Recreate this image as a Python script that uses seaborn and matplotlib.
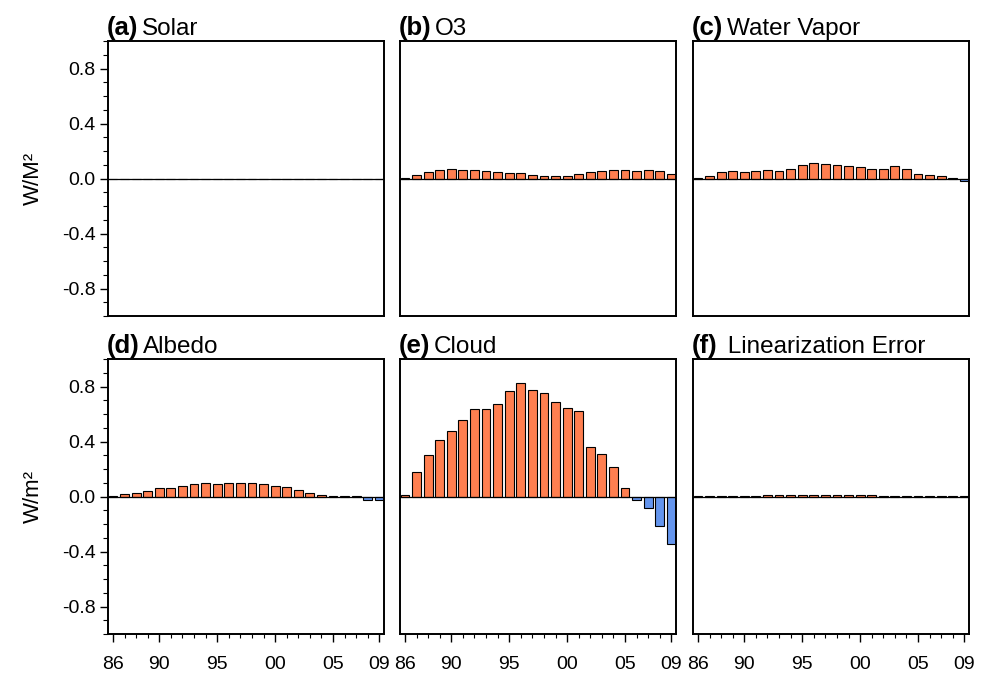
import numpy as np
import pandas as pd
import matplotlib
matplotlib.use("Agg")
import matplotlib.pyplot as plt
from matplotlib.ticker import MultipleLocator, FixedLocator
import seaborn as sns

years = list(range(1986, 2010))

solar = [0.0] * 24
o3 = [0.007, 0.027, 0.047, 0.059, 0.071, 0.064, 0.061, 0.051, 0.049, 0.037, 0.037, 0.027,
      0.015, 0.017, 0.015, 0.034, 0.047, 0.056, 0.064, 0.061, 0.056, 0.064, 0.054, 0.034]
water_vapor = [0.002, 0.017, 0.047, 0.054, 0.047, 0.054, 0.064, 0.054, 0.069, 0.096, 0.113, 0.105,
               0.096, 0.091, 0.086, 0.069, 0.071, 0.093, 0.069, 0.034, 0.027, 0.015, 0.002, -0.017]
albedo = [0.005, 0.017, 0.029, 0.037, 0.059, 0.064, 0.078, 0.088, 0.096, 0.091, 0.096, 0.098,
          0.098, 0.091, 0.076, 0.066, 0.047, 0.022, 0.012, 0.005, 0.002, 0.001, -0.025, -0.025]
cloud = [0.012, 0.18, 0.30, 0.41, 0.475, 0.556, 0.64, 0.635, 0.674, 0.77, 0.823, 0.777,
         0.755, 0.689, 0.647, 0.625, 0.358, 0.306, 0.211, 0.064, -0.027, -0.083, -0.213, -0.345]
lin_error = [0.002, 0.003, 0.004, 0.005, 0.007, 0.007, 0.008, 0.008, 0.008, 0.008, 0.008, 0.008,
             0.008, 0.008, 0.008, 0.008, 0.007, 0.006, 0.005, 0.004, 0.003, 0.003, 0.002, 0.002]

panel_tags = ["(a)", "(b)", "(c)", "(d)", "(e)", "(f)"]
panel_names = ["Solar", "O3", "Water Vapor", "Albedo", "Cloud", " Linearization Error"]
series = [solar, o3, water_vapor, albedo, cloud, lin_error]

xtick_years = [1986, 1990, 1995, 2000, 2005, 2009]
xtick_labels = ["86", "90", "95", "00", "05", "09"]
ytick_vals = [-0.8, -0.4, 0.0, 0.4, 0.8]
ytick_labels = ["-0.8", "-0.4", "0.0", "0.4", "0.8"]

sns.set_theme(style="white")
plt.rcParams["font.family"] = ["Liberation Sans", "DejaVu Sans"]
plt.rcParams["text.color"] = "black"
plt.rcParams["axes.labelcolor"] = "black"
plt.rcParams["xtick.color"] = "black"
plt.rcParams["ytick.color"] = "black"

W, H = 987, 676
fig = plt.figure(figsize=(W / 100, H / 100), dpi=100)

col_x = [108, 400, 693]
row_y = [(41, 316), (359, 634)]
ax_w = 276

pos_color = "#FF7F50"
neg_color = "#6495ED"

for i in range(6):
    r, c = divmod(i, 3)
    top, bot = row_y[r]
    ax = fig.add_axes([col_x[c] / W, 1 - bot / H, ax_w / W, (bot - top) / H])
    df = pd.DataFrame({"year": years, "value": series[i]})
    df["sign"] = np.where(df["value"] >= 0, "pos", "neg")
    sns.barplot(data=df, x="year", y="value", hue="sign",
                palette={"pos": pos_color, "neg": neg_color},
                native_scale=True, width=0.76, dodge=False, legend=False,
                edgecolor="black", linewidth=0.8, saturation=1, ax=ax)
    ax.axhline(0, color="black", lw=0.9, zorder=5)
    ax.set_xlim(1985.57, 2009.4)
    ax.set_ylim(-1.0, 1.0)
    ax.set_xlabel("")
    ax.set_ylabel("")
    for s in ax.spines.values():
        s.set_color("black")
        s.set_linewidth(1.4)

    if c == 0:
        ax.yaxis.set_major_locator(FixedLocator(ytick_vals))
        ax.set_yticklabels(ytick_labels)
        ax.yaxis.set_minor_locator(MultipleLocator(0.1))
        ax.tick_params(axis="y", which="major", left=True, direction="out",
                       length=6, width=1.0, labelsize=14, pad=3, color="black")
        ax.tick_params(axis="y", which="minor", left=True, direction="out",
                       length=3.5, width=0.8, color="black")
        ax.set_ylabel("W/M²" if r == 0 else "W/m²", fontsize=16, labelpad=13)
    else:
        ax.tick_params(axis="y", which="both", left=False, labelleft=False)
        ax.set_yticks([])

    if r == 1:
        ax.xaxis.set_major_locator(FixedLocator(xtick_years))
        ax.set_xticklabels(xtick_labels)
        ax.xaxis.set_minor_locator(MultipleLocator(1))
        ax.tick_params(axis="x", which="major", bottom=True, direction="out",
                       length=6, width=1.0, labelsize=14, pad=10, color="black")
        ax.tick_params(axis="x", which="minor", bottom=True, direction="out",
                       length=3, width=0.8, color="black")
    else:
        ax.set_xticks([])
        ax.tick_params(axis="x", which="both", bottom=False, labelbottom=False)

    ty = 1 + 6 / (bot - top)
    t = ax.text(-0.005, ty, panel_tags[i], transform=ax.transAxes,
                fontsize=18.5, fontweight="bold", ha="left", va="baseline")
    fig.canvas.draw()
    bb = t.get_window_extent()
    inv = ax.transAxes.inverted()
    x_end = inv.transform((bb.x1, bb.y0))[0]
    ax.text(x_end + 0.014, ty, panel_names[i], transform=ax.transAxes,
            fontsize=17.5, ha="left", va="baseline")

fig.savefig("out.png", dpi=100)
